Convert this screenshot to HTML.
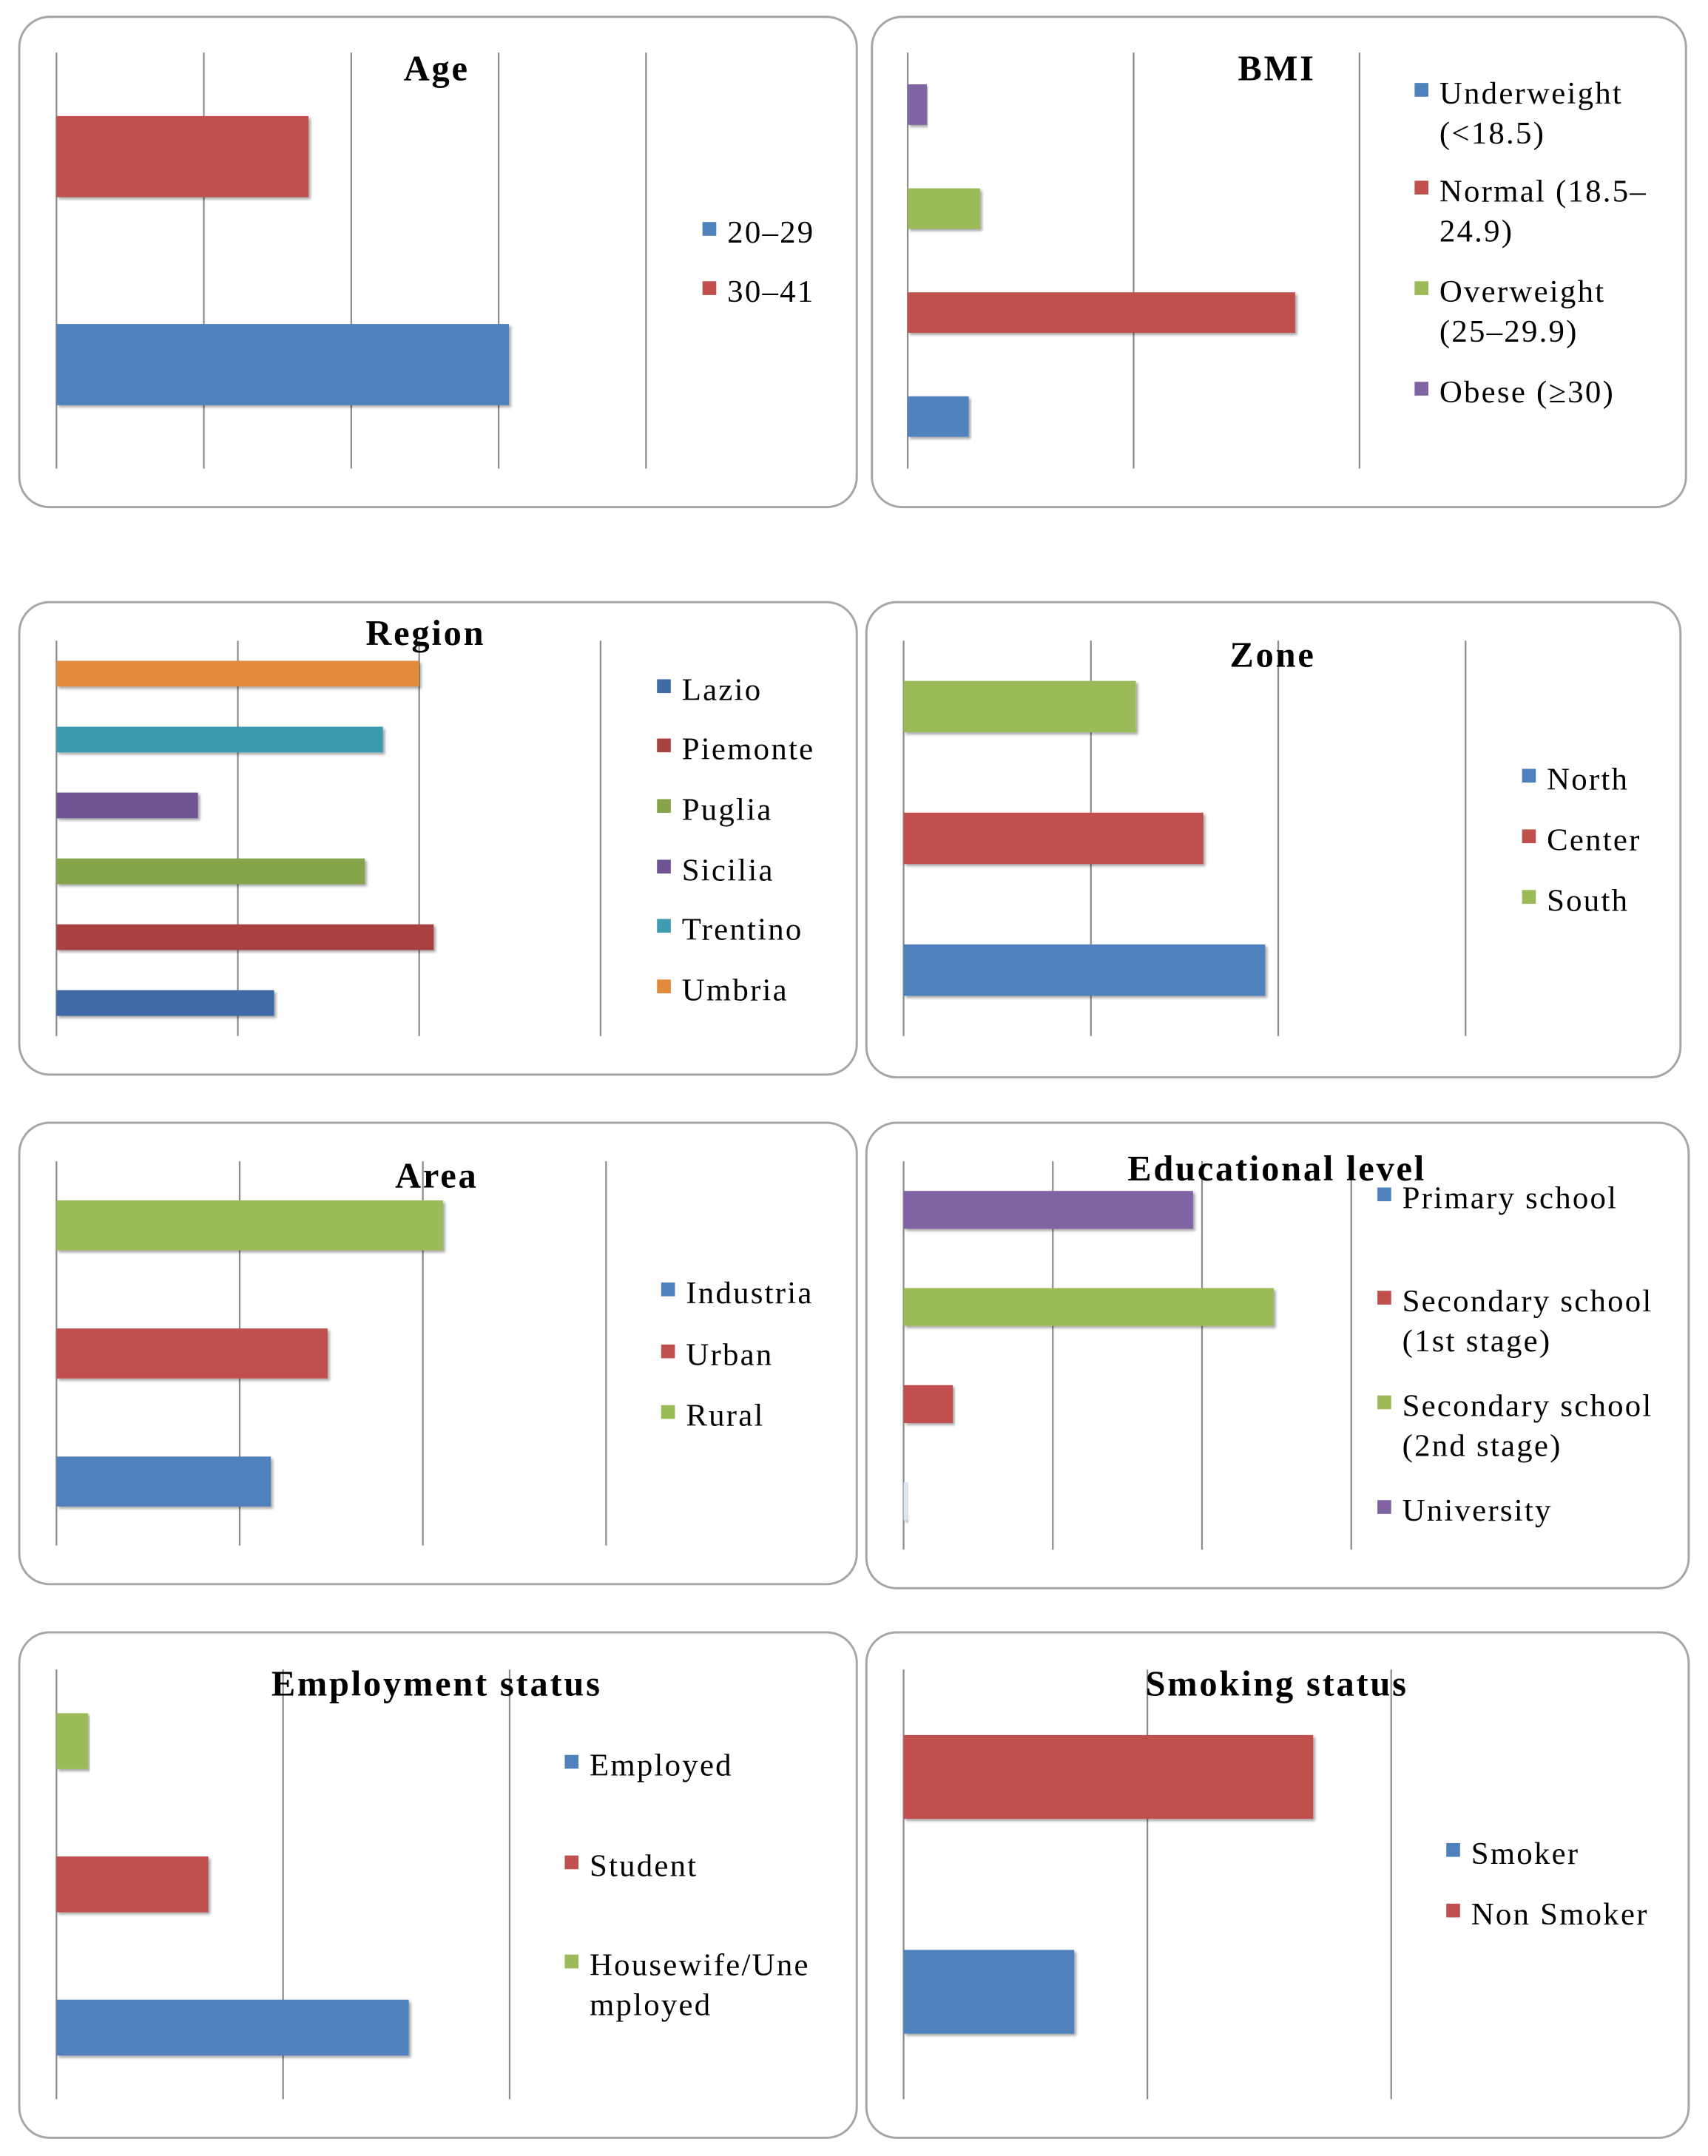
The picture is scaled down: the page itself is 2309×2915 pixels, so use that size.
<!DOCTYPE html>
<html><head><meta charset="utf-8"><style>
html,body{margin:0;padding:0;background:#fff;}
svg{display:block;}
text{font-family:"Liberation Serif",serif;fill:#000;}
</style></head><body>
<svg id="root" width="2309" height="2915" viewBox="0 0 1240 1565" xmlns="http://www.w3.org/2000/svg"></svg>
<script>
// ---- data arrays ----
const ageCats=["20–29","30–41"];
const ageVals=[30.7,17.1];
const ageTicks=[0,10,20,30,40];

const bmiCats=["Underweight (<18.5)","Normal (18.5–24.9)","Overweight (25–29.9)","Obese (≥30)"];
const bmiVals=[5.4,34.3,6.4,1.7];
const bmiTicks=[0,20,40];

const regionCats=["Lazio","Piemonte","Puglia","Sicilia","Trentino","Umbria"];
const regionVals=[6.0,10.4,8.5,3.9,9.0,10.0];
const regionTicks=[0,5,10,15];

const zoneCats=["North","Center","South"];
const zoneVals=[19.3,16.0,12.4];
const zoneTicks=[0,10,20,30];

const areaCats=["Industria","Urban","Rural"];
const areaVals=[11.7,14.8,21.1];
const areaTicks=[0,10,20,30];

const eduCats=["Primary school","Secondary school (1st stage)","Secondary school (2nd stage)","University"];
const eduVals=[0.3,3.3,24.8,19.4];
const eduTicks=[0,10,20,30];

const empCats=["Employed","Student","Housewife/Unemployed"];
const empVals=[31.1,13.4,2.8];
const empTicks=[0,20,40];

const smokeCats=["Smoker","Non Smoker"];
const smokeVals=[14.0,33.6];
const smokeTicks=[0,20,40];

// ---- rendering ----
const NS="http://www.w3.org/2000/svg";
const root=document.getElementById('root');
function mk(tag,attrs,parent){const e=document.createElementNS(NS,tag);for(const k in attrs)e.setAttribute(k,attrs[k]);(parent||root).appendChild(e);return e;}

const defs=mk('defs',{});
const f=mk('filter',{id:'sh',x:'-5%',y:'-20%',width:'110%',height:'150%'},defs);
mk('feDropShadow',{dx:'1.5',dy:'1.5',stdDeviation:'1',"flood-color":'#000',"flood-opacity":'0.35'},f);

function chart(cfg,cats,vals,ticks,colors,legColors){
  legColors=legColors||colors;
  const g=mk('g',{});
  
  
  const box=mk('rect',{x:cfg.box[0],y:cfg.box[1],width:cfg.box[2]-cfg.box[0],height:cfg.box[3]-cfg.box[1],rx:22,fill:'#fff',stroke:'#a6a6a6','stroke-width':1.6},g);
  
  
  const x0=cfg.plot[0],x1=cfg.plot[1],y0=cfg.plot[2],y1=cfg.plot[3];
  const tmin=ticks[0],tmax=ticks[ticks.length-1];
  const xs=v=>x0+(v-tmin)/(tmax-tmin)*(x1-x0);
  ticks.forEach(t=>{
    const l=mk('line',{x1:xs(t),x2:xs(t),y1:y0,y2:y1,stroke:'#8c8c8c','stroke-width':1.2},g);
    
    
  });
  const n=cats.length,band=(y1-y0)/n,th=band*0.39;
  cats.forEach((c,i)=>{
    const cy=y0+band*(n-1-i+0.5);
    const r=mk('rect',{x:xs(0),y:cy-th/2,width:Math.max(xs(vals[i])-xs(0),0.5),height:th,fill:colors[i],filter:'url(#sh)'},g);
    
    
  });
  const t=mk('text',{x:cfg.title[0],y:cfg.title[1],'text-anchor':'middle','font-size':26,'font-weight':'bold','letter-spacing':1.5},g);
  t.textContent=cfg.titleText;
  
  
  cfg.legend.forEach((lines,i)=>{
    const lg=mk('g',{},g);
    
    
    const lx=cfg.legendX,ly=lines[0];
    mk('rect',{x:lx,y:ly-7,width:10,height:10,fill:legColors[i]},lg);
    lines[1].forEach((s,j)=>{
      const tx=mk('text',{x:lx+18,y:ly+8+j*29,'font-size':23,'letter-spacing':1.2},lg);
      tx.textContent=s;
    });
  });
}
const B='#4f81bd',R='#c0504d',G='#9bbb59',P='#8064a2';
chart({name:'age',titleText:'Age',box:[14,12,622,368],plot:[41,469,38,340],title:[317,58],legendX:510,
  legend:[[168,['20–29']],[211,['30–41']]]},ageCats,ageVals,ageTicks,[B,R]);
chart({name:'bmi',titleText:'BMI',box:[633,12,1224,368],plot:[659,987,38,340],title:[927,58],legendX:1027,
  legend:[[67,['Underweight','(<18.5)']],[138,['Normal (18.5–','24.9)']],[211,['Overweight','(25–29.9)']],[284,['Obese (≥30)']]]},bmiCats,bmiVals,bmiTicks,[B,R,G,P]);
chart({name:'region',titleText:'Region',box:[14,437,622,780],plot:[41,436,465,752],title:[309,468],legendX:477,
  legend:[[500,['Lazio']],[543,['Piemonte']],[587,['Puglia']],[631,['Sicilia']],[674,['Trentino']],[718,['Umbria']]]},
  regionCats,regionVals,regionTicks,['#3f6aa6','#a84343','#86a44a','#6f5393','#3e9bb0','#e08a3c']);
chart({name:'zone',titleText:'Zone',box:[629,437,1220,782],plot:[656,1064,465,752],title:[924,484],legendX:1105,
  legend:[[565,['North']],[609,['Center']],[653,['South']]]},zoneCats,zoneVals,zoneTicks,[B,R,G]);
chart({name:'area',titleText:'Area',box:[14,815,622,1150],plot:[41,440,843,1122],title:[317,862],legendX:480,
  legend:[[938,['Industria']],[983,['Urban']],[1027,['Rural']]]},areaCats,areaVals,areaTicks,[B,R,G]);
chart({name:'education',titleText:'Educational level',box:[629,815,1226,1153],plot:[656,981,843,1125],title:[927,857],legendX:1000,
  legend:[[869,['Primary school']],[944,['Secondary school','(1st stage)']],[1020,['Secondary school','(2nd stage)']],[1096,['University']]]},
  eduCats,eduVals,eduTicks,['#dce6f2',R,G,P],[B,R,G,P]);
chart({name:'employment',titleText:'Employment status',box:[14,1185,622,1552],plot:[41,370,1212,1524],title:[317,1231],legendX:410,
  legend:[[1281,['Employed']],[1354,['Student']],[1426,['Housewife/Une','mployed']]]},empCats,empVals,empTicks,[B,R,G]);
chart({name:'smoking',titleText:'Smoking status',box:[629,1185,1226,1552],plot:[656,1010,1212,1524],title:[927,1231],legendX:1050,
  legend:[[1345,['Smoker']],[1389,['Non Smoker']]]},smokeCats,smokeVals,smokeTicks,[B,R]);
</script>
</body></html>
